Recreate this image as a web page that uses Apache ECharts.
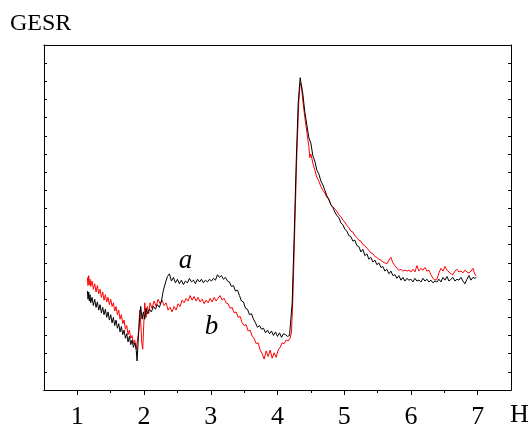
<!DOCTYPE html>
<html>
<head>
<meta charset="utf-8">
<title>GESR</title>
<script src="https://cdn.jsdelivr.net/npm/echarts@6/dist/echarts.min.js"></script>
<style>
  html, body { margin: 0; padding: 0; background: #ffffff; }
  #chart { width: 529px; height: 425px; }
</style>
</head>
<body>
<div id="chart"></div>
<script>
// 横轴刻度
const xMajorTicks = [1, 2, 3, 4, 5, 6, 7]
const xMinorTicks = [1.5, 2.5, 3.5, 4.5, 5.5, 6.5]

// 曲线 a（黑）
const xA = [1.15, 1.16, 1.17, 1.18, 1.19, 1.20, 1.22, 1.24, 1.26, 1.28, 1.30, 1.32, 1.34, 1.36, 1.38, 1.40, 1.42, 1.44, 1.46, 1.48,
  1.50, 1.52, 1.54, 1.56, 1.58, 1.60, 1.62, 1.64, 1.66, 1.68, 1.70, 1.72, 1.74, 1.76, 1.78, 1.80, 1.82, 1.84, 1.86, 1.88,
  1.895, 1.91, 1.93, 1.95, 1.97, 1.99, 2.01, 2.03, 2.05, 2.08, 2.11, 2.14, 2.17, 2.20, 2.23, 2.26, 2.29, 2.32, 2.35, 2.38,
  2.41, 2.44, 2.47, 2.50, 2.53, 2.56, 2.59, 2.62, 2.65, 2.68, 2.71, 2.74, 2.77, 2.80, 2.83, 2.86, 2.89, 2.92, 2.95, 2.98,
  3.01, 3.04, 3.07, 3.10, 3.13, 3.16, 3.19, 3.22, 3.25, 3.28, 3.31, 3.34, 3.37, 3.40, 3.43, 3.46, 3.49, 3.52, 3.55, 3.58,
  3.61, 3.64, 3.67, 3.70, 3.73, 3.76, 3.79, 3.82, 3.85, 3.88, 3.91, 3.94, 3.97, 4.00, 4.03, 4.06, 4.09, 4.12, 4.15, 4.18,
  4.20, 4.22, 4.25, 4.28, 4.31, 4.34, 4.36, 4.38, 4.41, 4.44, 4.47, 4.50, 4.53, 4.56, 4.59, 4.62, 4.65, 4.68, 4.71, 4.74,
  4.77, 4.80, 4.83, 4.86, 4.89, 4.92, 4.95, 4.98, 5.01, 5.04, 5.07, 5.10, 5.13, 5.16, 5.19, 5.22, 5.25, 5.28, 5.31, 5.34,
  5.37, 5.40, 5.43, 5.46, 5.49, 5.52, 5.55, 5.58, 5.61, 5.64, 5.67, 5.70, 5.73, 5.76, 5.79, 5.82, 5.85, 5.88, 5.91, 5.94,
  5.97, 6.00, 6.03, 6.06, 6.09, 6.12, 6.15, 6.18, 6.21, 6.24, 6.27, 6.30, 6.33, 6.36, 6.39, 6.42, 6.45, 6.48, 6.51, 6.54,
  6.57, 6.60, 6.63, 6.66, 6.69, 6.72, 6.75, 6.78, 6.81, 6.84, 6.87, 6.90, 6.93, 6.96, 6.98]
const yA = [5.45, 5.0, 5.4, 4.9, 5.25, 4.8, 5.1, 4.65, 5.0, 4.55, 4.85, 4.4, 4.7, 4.25, 4.55, 4.15, 4.45, 4.0, 4.3, 3.85,
  4.15, 3.7, 4.0, 3.55, 3.85, 3.4, 3.65, 3.2, 3.5, 3.05, 3.3, 2.85, 3.1, 2.65, 2.95, 2.5, 2.75, 2.35, 2.6, 2.3,
  1.6, 2.6, 3.8, 4.6, 3.9, 4.3, 3.9, 4.5, 4.2, 4.45, 4.3, 4.6, 4.45, 4.7, 4.55, 4.9, 5.5, 5.9, 6.25, 6.4,
  6.0, 6.2, 5.9, 6.1, 5.85, 6.05, 5.8, 6.0, 5.9, 6.15, 5.95, 6.05, 5.85, 6.1, 5.95, 6.1, 5.9, 6.05, 5.95, 6.1,
  6.0, 6.15, 6.05, 6.35, 6.2, 6.3, 6.1, 6.2, 6.0, 5.95, 5.7, 5.75, 5.45, 5.5, 5.2, 4.9, 4.85, 4.5, 4.45, 4.15,
  4.2, 3.9, 3.7, 3.45, 3.55, 3.35, 3.4, 3.15, 3.3, 3.1, 3.25, 3.0, 3.2, 2.95, 3.15, 2.9, 3.1, 3.05, 2.95, 3.0,
  3.1, 4.8, 8.5, 12.5, 15.8, 17.2, 17.1, 16.3, 15.3, 14.6, 13.9, 13.6, 12.9, 12.6, 12.1, 11.9, 11.5, 11.3, 11.0, 10.7,
  10.5, 10.2, 10.05, 9.8, 9.6, 9.5, 9.2, 9.1, 8.85, 8.75, 8.5, 8.45, 8.2, 8.25, 7.95, 7.9, 7.6, 7.75, 7.4, 7.5,
  7.2, 7.3, 7.05, 7.15, 6.9, 7.0, 6.75, 6.8, 6.55, 6.65, 6.4, 6.55, 6.3, 6.35, 6.15, 6.3, 6.05, 6.2, 6.0, 6.15,
  6.05, 6.1, 5.95, 6.15, 6.0, 6.05, 5.95, 6.15, 6.0, 6.1, 5.95, 6.05, 5.9, 6.0, 5.95, 6.1, 5.95, 6.2, 6.05, 6.25,
  6.0, 6.1, 6.2, 6.0, 6.1, 6.05, 6.2, 6.0, 5.85, 6.1, 6.3, 6.05, 6.2, 6.15, 6.2]

// 曲线 b（红）
const xB = [1.15, 1.16, 1.17, 1.18, 1.19, 1.20, 1.22, 1.24, 1.26, 1.28, 1.30, 1.32, 1.34, 1.36, 1.38, 1.40, 1.42, 1.44, 1.46, 1.48,
  1.50, 1.52, 1.54, 1.56, 1.58, 1.60, 1.62, 1.64, 1.66, 1.68, 1.70, 1.72, 1.74, 1.76, 1.78, 1.80, 1.82, 1.84, 1.86, 1.88,
  1.90, 1.92, 1.935, 1.95, 1.965, 1.98, 1.995, 2.01, 2.03, 2.05, 2.07, 2.09, 2.12, 2.15, 2.18, 2.21, 2.24, 2.27, 2.30, 2.33,
  2.36, 2.39, 2.42, 2.45, 2.48, 2.51, 2.54, 2.57, 2.60, 2.63, 2.66, 2.69, 2.72, 2.75, 2.78, 2.81, 2.84, 2.87, 2.90, 2.93,
  2.96, 2.99, 3.02, 3.05, 3.08, 3.11, 3.14, 3.17, 3.20, 3.23, 3.26, 3.29, 3.32, 3.35, 3.38, 3.41, 3.44, 3.47, 3.50, 3.53,
  3.56, 3.59, 3.62, 3.65, 3.68, 3.71, 3.74, 3.77, 3.80, 3.83, 3.86, 3.89, 3.92, 3.95, 3.98, 4.01, 4.04, 4.07, 4.10, 4.13,
  4.16, 4.19, 4.21, 4.23, 4.26, 4.29, 4.32, 4.34, 4.36, 4.38, 4.41, 4.44, 4.47, 4.485, 4.50, 4.53, 4.56, 4.59, 4.62, 4.65,
  4.68, 4.71, 4.74, 4.77, 4.80, 4.83, 4.86, 4.89, 4.92, 4.95, 4.98, 5.01, 5.04, 5.07, 5.10, 5.13, 5.16, 5.19, 5.22, 5.25,
  5.28, 5.31, 5.34, 5.37, 5.40, 5.43, 5.46, 5.49, 5.52, 5.55, 5.58, 5.61, 5.64, 5.67, 5.70, 5.73, 5.76, 5.79, 5.82, 5.85,
  5.88, 5.91, 5.94, 5.97, 6.00, 6.03, 6.06, 6.09, 6.12, 6.15, 6.18, 6.21, 6.24, 6.27, 6.30, 6.33, 6.36, 6.39, 6.42, 6.45,
  6.48, 6.51, 6.54, 6.57, 6.60, 6.63, 6.66, 6.69, 6.72, 6.75, 6.78, 6.81, 6.84, 6.87, 6.90, 6.93, 6.96, 6.98]
const yB = [6.2, 5.75, 6.3, 5.8, 6.1, 5.7, 6.0, 5.55, 5.85, 5.4, 5.75, 5.3, 5.55, 5.1, 5.4, 4.95, 5.25, 4.85, 5.1, 4.7,
  5.0, 4.6, 4.8, 4.35, 4.6, 4.15, 4.4, 3.9, 4.15, 3.65, 3.85, 3.35, 3.55, 3.05, 3.3, 2.85, 3.0, 2.55, 2.75, 2.25,
  2.7, 3.3, 4.4, 3.7, 2.6, 2.25, 3.6, 4.8, 4.0, 4.6, 4.2, 4.8, 4.5, 4.9, 4.6, 5.0, 4.75, 4.95, 4.65, 4.8,
  4.4, 4.55, 4.3, 4.6, 4.4, 4.75, 4.6, 4.95, 4.8, 5.05, 4.9, 5.2, 4.95, 5.15, 4.9, 5.1, 4.85, 5.0, 4.75, 4.95,
  4.8, 5.05, 4.85, 5.1, 4.9, 5.05, 5.2, 4.95, 5.05, 4.8, 4.75, 4.5, 4.55, 4.25, 4.3, 4.0, 4.05, 3.7, 3.55, 3.6,
  3.25, 3.3, 2.95, 2.85, 2.55, 2.6, 2.2, 2.0, 1.7, 2.15, 1.85, 2.2, 1.75, 2.05, 1.8, 2.2, 2.35, 2.6, 2.55, 2.75,
  2.7, 2.85, 3.2, 5.0, 9.0, 13.0, 15.9, 16.9, 16.7, 15.9, 15.0, 14.2, 13.4, 12.8, 13.0, 12.5, 12.1, 11.7, 11.5, 11.2,
  11.0, 10.85, 10.6, 10.5, 10.2, 10.1, 9.95, 9.85, 9.65, 9.55, 9.35, 9.25, 9.05, 8.95, 8.75, 8.7, 8.5, 8.4, 8.25, 8.2,
  8.0, 7.95, 7.8, 7.7, 7.55, 7.5, 7.35, 7.3, 7.2, 7.15, 7.05, 7.0, 6.95, 7.15, 7.3, 7.0, 6.85, 6.7, 6.6, 6.65,
  6.55, 6.6, 6.55, 6.6, 6.5, 6.65, 6.5, 6.85, 6.55, 6.7, 6.6, 6.75, 6.55, 6.6, 6.35, 6.15, 6.05, 6.1, 6.45, 6.7,
  6.55, 6.8, 6.6, 6.5, 6.4, 6.35, 6.55, 6.65, 6.5, 6.55, 6.45, 6.6, 6.5, 6.45, 6.55, 6.7, 6.35, 6.3]

// 曲线标注位置
const labelA = [2.62, 7.1]
const labelB = [3.01, 3.45]

const serif = "'Liberation Serif', 'Times New Roman', serif"

const zip = (xs, ys) => xs.map((x, i) => [x, ys[i]])

const myChart = echarts.init(document.getElementById('chart'), null, { renderer: 'canvas' })

const tickAxis = {
  type: 'value',
  min: 0.5,
  max: 7.5,
  interval: 0.5,
  axisLine: { show: true, onZero: false, lineStyle: { color: '#000', width: 1 } },
  splitLine: { show: false }
}

// 曲线旁的斜体标注
const curveLabel = (text, coord) => ({
  symbol: 'circle',
  symbolSize: 1,
  itemStyle: { color: 'rgba(0,0,0,0)' },
  label: {
    show: true, position: 'inside', formatter: text,
    color: '#000', fontFamily: serif, fontStyle: 'italic', fontSize: 27
  },
  data: [{ coord: coord }]
})

const options = {
  animation: false,
  backgroundColor: '#ffffff',
  // 固定绘图区，不让标签挤压网格
  grid: { left: 44, right: 18, top: 45, bottom: 35, containLabel: false, outerBoundsMode: 'none' },
  xAxis: [
    // 底部：主刻度 + 标签
    Object.assign({}, tickAxis, {
      position: 'bottom',
      axisTick: { show: true, inside: false, length: 5, customValues: xMajorTicks, lineStyle: { color: '#000' } },
      axisLabel: {
        show: true, customValues: xMajorTicks, margin: 14,
        color: '#000', fontFamily: serif, fontSize: 26
      }
    }),
    // 底部：次刻度
    Object.assign({}, tickAxis, {
      position: 'bottom',
      axisTick: { show: true, inside: false, length: 3, customValues: xMinorTicks, lineStyle: { color: '#000' } },
      axisLabel: { show: false }
    }),
    // 顶部边框
    Object.assign({}, tickAxis, {
      position: 'top',
      axisTick: { show: false },
      axisLabel: { show: false }
    })
  ],
  yAxis: [
    {
      type: 'value', min: 0, max: 19, interval: 1, position: 'left',
      axisLine: { show: true, lineStyle: { color: '#000', width: 1 } },
      axisTick: { show: true, inside: true, length: 3, lineStyle: { color: '#000' } },
      axisLabel: { show: false },
      splitLine: { show: false }
    },
    {
      type: 'value', min: 0, max: 19, interval: 1, position: 'right',
      axisLine: { show: true, lineStyle: { color: '#000', width: 1 } },
      axisTick: { show: true, inside: true, length: 3, lineStyle: { color: '#000' } },
      axisLabel: { show: false },
      splitLine: { show: false }
    }
  ],
  graphic: [
    { type: 'text', left: 10, top: 12, style: { text: 'GESR', fontFamily: serif, fontSize: 24, fill: '#000' } },
    { type: 'text', left: 510, top: 402, style: { text: 'H', fontFamily: serif, fontSize: 26, fill: '#000' } }
  ],
  series: [
    {
      name: 'b',
      type: 'line',
      data: zip(xB, yB),
      symbol: 'none',
      lineStyle: { color: '#ff0000', width: 1 },
      markPoint: curveLabel('b', labelB)
    },
    {
      name: 'a',
      type: 'line',
      data: zip(xA, yA),
      symbol: 'none',
      lineStyle: { color: '#000000', width: 1 },
      markPoint: curveLabel('a', labelA)
    }
  ]
}

myChart.setOption(options)
</script>
</body>
</html>
